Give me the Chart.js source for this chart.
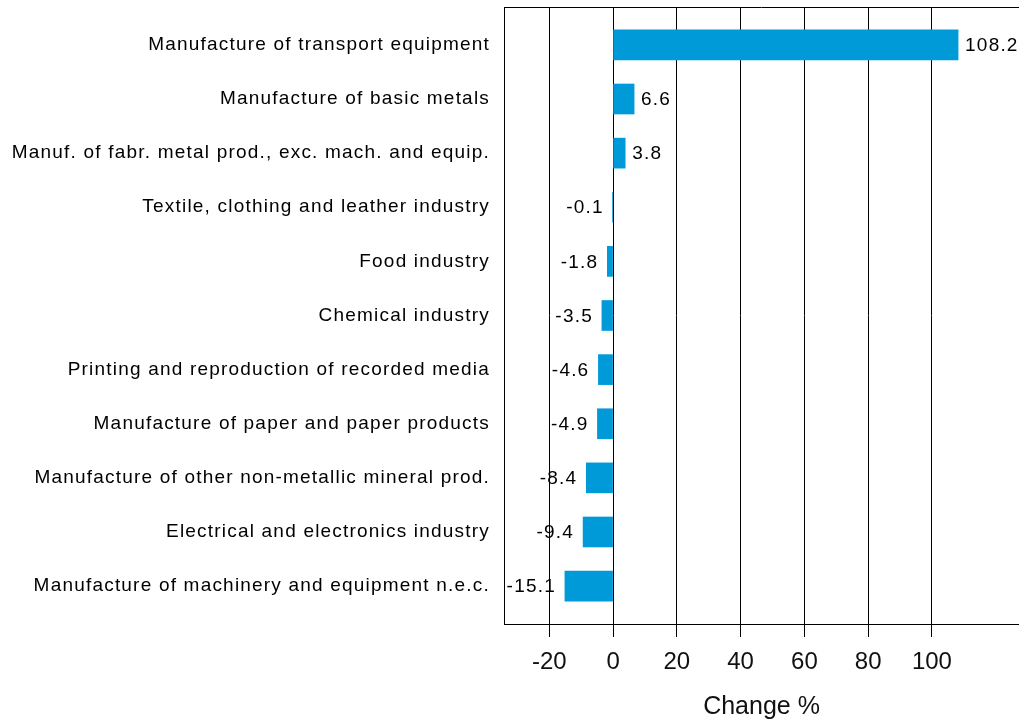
<!DOCTYPE html>
<html>
<head>
<meta charset="utf-8">
<script src="https://cdn.jsdelivr.net/npm/chart.js@4"></script>
<style>
  html, body { margin: 0; padding: 0; background: #fff; }
  #wrap { width: 1019px; height: 719px; position: relative; }
</style>
</head>
<body>
<div id="wrap"><canvas id="chart"></canvas></div>
<script>
'use strict';

/*********** VARIABLES ***********/
var categories = [
  'Manufacture of transport equipment',
  'Manufacture of basic metals',
  'Manuf. of fabr. metal prod., exc. mach. and equip.',
  'Textile, clothing and leather industry',
  'Food industry',
  'Chemical industry',
  'Printing and reproduction of recorded media',
  'Manufacture of paper and paper products',
  'Manufacture of other non-metallic mineral prod.',
  'Electrical and electronics industry',
  'Manufacture of machinery and equipment n.e.c.'
];
var changes = [108.2, 6.6, 3.8, -0.1, -1.8, -3.5, -4.6, -4.9, -8.4, -9.4, -15.1];
var xTicks = [-20, 0, 20, 40, 60, 80, 100];
var axisTitle = 'Change %';

var fontFamily = '"Liberation Sans", Arial, sans-serif';
var barColor = '#009ad8';
var labelSpacing = '1.2px';

/*********** PLUGINS ***********/
// the category labels and bar values use a slightly spaced font,
// the x axis does not. y tick labels get z 1 so they are drawn after the bars
var spacing = {
  id: 'spacing',
  beforeDraw: function(chart) {
    chart.ctx.letterSpacing = '0px';
  },
  afterDatasetsDraw: function(chart) {
    var ctx = chart.ctx;
    var meta = chart.getDatasetMeta(0);
    ctx.letterSpacing = labelSpacing;
    ctx.save();
    ctx.font = '19px ' + fontFamily;
    ctx.fillStyle = '#000';
    ctx.textBaseline = 'middle';
    for (var i = 0; i < meta.data.length; i++) {
      var bar = meta.data[i];
      var v = changes[i];
      if (v >= 0) {
        ctx.textAlign = 'left';
        ctx.fillText(v.toFixed(1), bar.x + 7, bar.y + 1);
      } else {
        ctx.textAlign = 'right';
        ctx.fillText(v.toFixed(1), bar.x - 9, bar.y + 1);
      }
    }
    // top border of the plot
    var a = chart.chartArea;
    ctx.strokeStyle = '#000';
    ctx.lineWidth = 1;
    ctx.beginPath();
    ctx.moveTo(a.left, a.top + 0.5);
    ctx.lineTo(a.right, a.top + 0.5);
    ctx.stroke();
    ctx.restore();
  },
  afterDraw: function(chart) {
    chart.ctx.letterSpacing = '0px';
  }
};

/*********** CHART ***********/
function drawChart() {
  var points = [];
  for (var i = 0; i < changes.length; i++) {
    points.push({ x: changes[i], y: i });
  }
  var ctx = document.getElementById('chart').getContext('2d');
  new Chart(ctx, {
    type: 'bar',
    data: {
      datasets: [{
        data: points,
        backgroundColor: barColor,
        borderWidth: 0,
        barThickness: 30
      }]
    },
    options: {
      indexAxis: 'y',
      responsive: true,
      maintainAspectRatio: false,
      animation: false,
      layout: { padding: { top: 7, right: 0, left: 0, bottom: 0 } },
      plugins: {
        legend: { display: false },
        tooltip: { enabled: false }
      },
      scales: {
        x: {
          type: 'linear',
          min: -34.2,
          max: 127.3,
          afterBuildTicks: function(axis) {
            axis.ticks = xTicks.map(function(v) { return { value: v }; });
          },
          afterFit: function(axis) {
            axis.height = 95;
            axis.paddingLeft = 0;
            axis.paddingRight = 0;
          },
          grid: {
            color: '#000',
            lineWidth: 1,
            tickLength: 13,
            drawOnChartArea: true
          },
          border: { display: true, color: '#000', width: 1 },
          ticks: {
            color: '#111',
            font: { family: fontFamily, size: 24 },
            padding: 11,
            maxRotation: 0
          },
          title: {
            display: true,
            text: axisTitle,
            color: '#111',
            font: { family: fontFamily, size: 25 },
            padding: { top: 0, bottom: -3 }
          }
        },
        y: {
          type: 'linear',
          offset: false,
          reverse: true,
          min: -0.7,
          max: 10.7,
          afterBuildTicks: function(axis) {
            axis.ticks = categories.map(function(c, i) { return { value: i }; });
          },
          afterFit: function(axis) {
            axis.width = 504;
            axis.paddingTop = 0;
            axis.paddingBottom = 0;
          },
          grid: { display: false, drawTicks: false },
          border: { display: true, color: '#000', width: 1 },
          ticks: {
            z: 1,
            color: '#000',
            font: { family: fontFamily, size: 19 },
            padding: 14,
            callback: function(value) { return categories[value]; }
          }
        }
      }
    },
    plugins: [spacing]
  });
}

drawChart();
</script>
</body>
</html>
